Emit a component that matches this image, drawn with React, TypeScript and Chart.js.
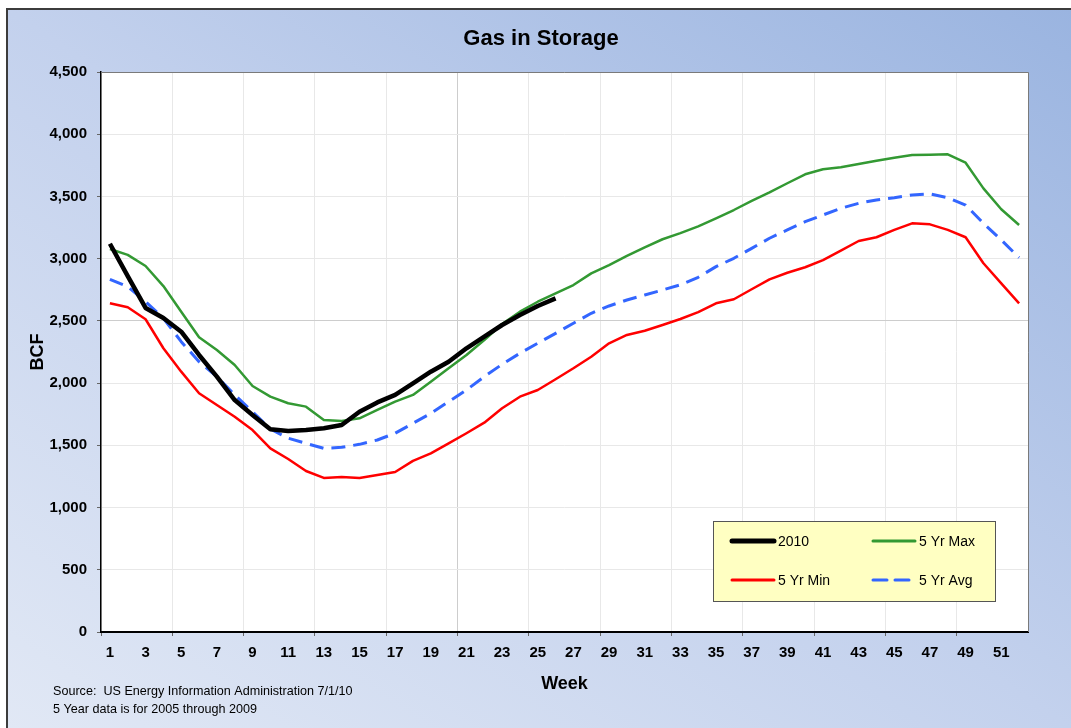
import React, { useEffect, useRef } from 'react';
import { Chart, registerables } from 'chart.js';

Chart.register(...registerables);

const FONT = "'Liberation Sans', Arial, sans-serif";

const TITLE = 'Gas in Storage';
const X_TITLE = 'Week';
const Y_TITLE = 'BCF';
const SOURCE_LINES = [
  'Source:  US Energy Information Administration 7/1/10',
  '5 Year data is for 2005 through 2009',
];

const WEEKS = [
  '1', '2', '3', '4', '5', '6', '7', '8', '9', '10',
  '11', '12', '13', '14', '15', '16', '17', '18', '19', '20',
  '21', '22', '23', '24', '25', '26', '27', '28', '29', '30',
  '31', '32', '33', '34', '35', '36', '37', '38', '39', '40',
  '41', '42', '43', '44', '45', '46', '47', '48', '49', '50',
  '51', '52',
];

const Y2010 = [
  3120, 2860, 2604, 2523, 2413, 2226, 2052, 1864, 1744, 1629,
  1615, 1623, 1637, 1663, 1770, 1845, 1905, 1998, 2092, 2172,
  2280, 2373, 2467, 2547, 2620, 2681,
];

const MAX5 = [
  3078, 3030, 2941, 2780, 2574, 2368, 2266, 2146, 1977, 1891,
  1838, 1811, 1704, 1696, 1717, 1784, 1851, 1905, 2011, 2119,
  2226, 2346, 2475, 2574, 2654, 2722, 2788, 2882, 2949, 3022,
  3091, 3156, 3205, 3260, 3324, 3391, 3464, 3533, 3606, 3678,
  3718, 3734, 3761, 3787, 3811, 3833, 3836, 3839, 3771, 3565,
  3397, 3271,
];

const MIN5 = [
  2641, 2609, 2513, 2280, 2092, 1918, 1824, 1730, 1623, 1476,
  1390, 1294, 1238, 1245, 1238, 1262, 1286, 1375, 1436, 1516,
  1597, 1682, 1798, 1891, 1945, 2031, 2119, 2212, 2320, 2387,
  2421, 2467, 2515, 2570, 2641, 2674, 2754, 2834, 2887, 2931,
  2989, 3064, 3142, 3172, 3231, 3284, 3276, 3231, 3172, 2963,
  2802, 2641,
];

const AVG5 = [
  2834, 2775, 2654, 2521, 2333, 2172, 2052, 1905, 1770, 1631,
  1557, 1516, 1476, 1484, 1508, 1543, 1597, 1677, 1757, 1851,
  1945, 2052, 2151, 2240, 2320, 2400, 2481, 2561, 2620, 2668,
  2708, 2748, 2790, 2850, 2936, 3003, 3083, 3164, 3231, 3297,
  3351, 3405, 3445, 3472, 3490, 3512, 3520, 3490, 3431, 3284,
  3150, 3008,
];

const W = 1071;
const H = 728;

const decorPlugin = {
  id: 'decor',
  beforeDraw(chart: any) {
    const { ctx, chartArea } = chart;
    ctx.save();
    ctx.fillStyle = '#ffffff';
    ctx.fillRect(0, 0, W, H);
    const x0 = 6, y0 = 8, bw = W - x0, bh = H - y0;
    const k = (2 * bw * bh) / (bw * bw + bh * bh);
    const g = ctx.createLinearGradient(x0, H, x0 + k * bh, H - k * bw);
    g.addColorStop(0, '#e1e8f5');
    g.addColorStop(0.5, '#c3d1ed');
    g.addColorStop(1, '#9ab4e0');
    ctx.fillStyle = g;
    ctx.fillRect(x0, y0, bw, bh);
    ctx.strokeStyle = '#3c3c3c';
    ctx.lineWidth = 2;
    ctx.beginPath();
    ctx.moveTo(7, H);
    ctx.lineTo(7, 9);
    ctx.lineTo(W, 9);
    ctx.stroke();
    ctx.fillStyle = '#ffffff';
    ctx.fillRect(chartArea.left, chartArea.top, chartArea.right - chartArea.left, chartArea.bottom - chartArea.top);
    ctx.fillStyle = '#000';
    ctx.font = `bold 22px ${FONT}`;
    ctx.textAlign = 'center';
    ctx.textBaseline = 'middle';
    ctx.fillText(TITLE, 541, 39);
    ctx.font = `12.6px ${FONT}`;
    ctx.textAlign = 'left';
    SOURCE_LINES.forEach((t, i) => ctx.fillText(t, 53, 692 + i * 18));
    ctx.restore();
  },
  beforeDatasetsDraw(chart: any) {
    const { ctx, chartArea } = chart;
    ctx.save();
    ctx.strokeStyle = '#7a7a7a';
    ctx.lineWidth = 1;
    ctx.beginPath();
    ctx.moveTo(chartArea.left, chartArea.top + 0.5);
    ctx.lineTo(chartArea.right + 0.5, chartArea.top + 0.5);
    ctx.lineTo(chartArea.right + 0.5, chartArea.bottom);
    ctx.stroke();
    ctx.restore();
  },
  afterDraw(chart: any) {
    const { ctx } = chart;
    const ds = chart.data.datasets;
    ctx.save();
    const bx = 713, by = 521, bW = 282, bH = 80;
    ctx.fillStyle = '#ffffc2';
    ctx.fillRect(bx, by, bW, bH);
    ctx.strokeStyle = '#555';
    ctx.lineWidth = 1;
    ctx.strokeRect(bx + 0.5, by + 0.5, bW, bH);
    const cols = [732, 873];
    const rows = [541, 580];
    ds.forEach((d: any, i: number) => {
      const x = cols[i % 2];
      const y = rows[Math.floor(i / 2)];
      ctx.strokeStyle = d.borderColor;
      ctx.lineWidth = d.legendWidth;
      ctx.setLineDash(d.borderDash || []);
      ctx.lineCap = 'round';
      ctx.beginPath();
      ctx.moveTo(x, y);
      ctx.lineTo(x + 42, y);
      ctx.stroke();
      ctx.setLineDash([]);
      ctx.fillStyle = '#000';
      ctx.font = `14px ${FONT}`;
      ctx.textAlign = 'left';
      ctx.textBaseline = 'middle';
      ctx.fillText(d.label, x + 46, y + 1);
    });
    ctx.restore();
  },
};

export default function App() {
  const ref = useRef<HTMLCanvasElement | null>(null);

  useEffect(() => {
    if (!ref.current) return;
    Chart.defaults.font.family = FONT;
    const chart = new Chart(ref.current, {
      type: 'line',
      data: {
        labels: WEEKS,
        datasets: [
          { label: '2010', data: Y2010, borderColor: '#000000', borderWidth: 4.5, legendWidth: 5 } as any,
          { label: '5 Yr Max', data: MAX5, borderColor: '#339933', borderWidth: 2.5, legendWidth: 3 } as any,
          { label: '5 Yr Min', data: MIN5, borderColor: '#ff0000', borderWidth: 2.5, legendWidth: 3 } as any,
          { label: '5 Yr Avg', data: AVG5, borderColor: '#3366ff', borderWidth: 3, borderDash: [14, 8], legendWidth: 3 } as any,
        ],
      },
      options: {
        responsive: false,
        animation: false,
        devicePixelRatio: 1,
        layout: { padding: { left: 0, top: 72, right: 43, bottom: 0 } },
        elements: {
          point: { radius: 0, hoverRadius: 0 },
          line: { tension: 0, fill: false, borderCapStyle: 'butt', borderJoinStyle: 'round' },
        },
        plugins: {
          legend: { display: false },
          title: { display: false },
          tooltip: { enabled: false },
        },
        scales: {
          x: {
            type: 'category',
            offset: true,
            afterFit: (s: any) => {
              s.height = 96;
              s.paddingLeft = 0;
              s.paddingRight = 0;
            },
            grid: {
              offset: true,
              drawTicks: true,
              tickLength: 4,
              color: (c: any) => (c.index % 4 === 0 ? (c.index === 20 ? '#cdcdcd' : '#e8e8e8') : 'rgba(0,0,0,0)'),
              tickColor: (c: any) => (c.index % 4 === 0 ? '#666' : 'rgba(0,0,0,0)'),
            },
            border: { display: true, color: '#000', width: 2 },
            ticks: {
              autoSkip: false,
              maxRotation: 0,
              padding: 8,
              color: '#000',
              font: { size: 15, weight: 'bold' },
              callback: (_v: any, i: number) => (i % 2 === 0 ? WEEKS[i] : ''),
            },
            title: {
              display: true,
              text: X_TITLE,
              color: '#000',
              font: { size: 18, weight: 'bold' },
              padding: { top: 0, bottom: 33 },
            },
          },
          y: {
            min: 0,
            max: 4500,
            afterFit: (s: any) => {
              s.width = 101;
              s.paddingTop = 0;
              s.paddingBottom = 0;
            },
            grid: {
              drawTicks: true,
              tickLength: 4,
              color: (c: any) => (c.tick && c.tick.value === 2500 ? '#cdcdcd' : '#e8e8e8'),
              tickColor: '#666',
            },
            border: { display: true, color: '#000', width: 1.5 },
            ticks: {
              stepSize: 500,
              padding: 10,
              color: '#000',
              font: { size: 15, weight: 'bold' },
              callback: (v: any) => Number(v).toLocaleString('en-US'),
            },
            title: {
              display: true,
              text: Y_TITLE,
              color: '#000',
              font: { size: 18, weight: 'bold' },
              padding: { top: 27, bottom: 0 },
            },
          },
        },
      } as any,
      plugins: [decorPlugin],
    });
    return () => chart.destroy();
  }, []);

  return (
    <div style={{ position: 'absolute', left: 0, top: 0, width: W, height: H }}>
      <canvas ref={ref} width={W} height={H} style={{ width: W, height: H, display: 'block' }} />
    </div>
  );
}
